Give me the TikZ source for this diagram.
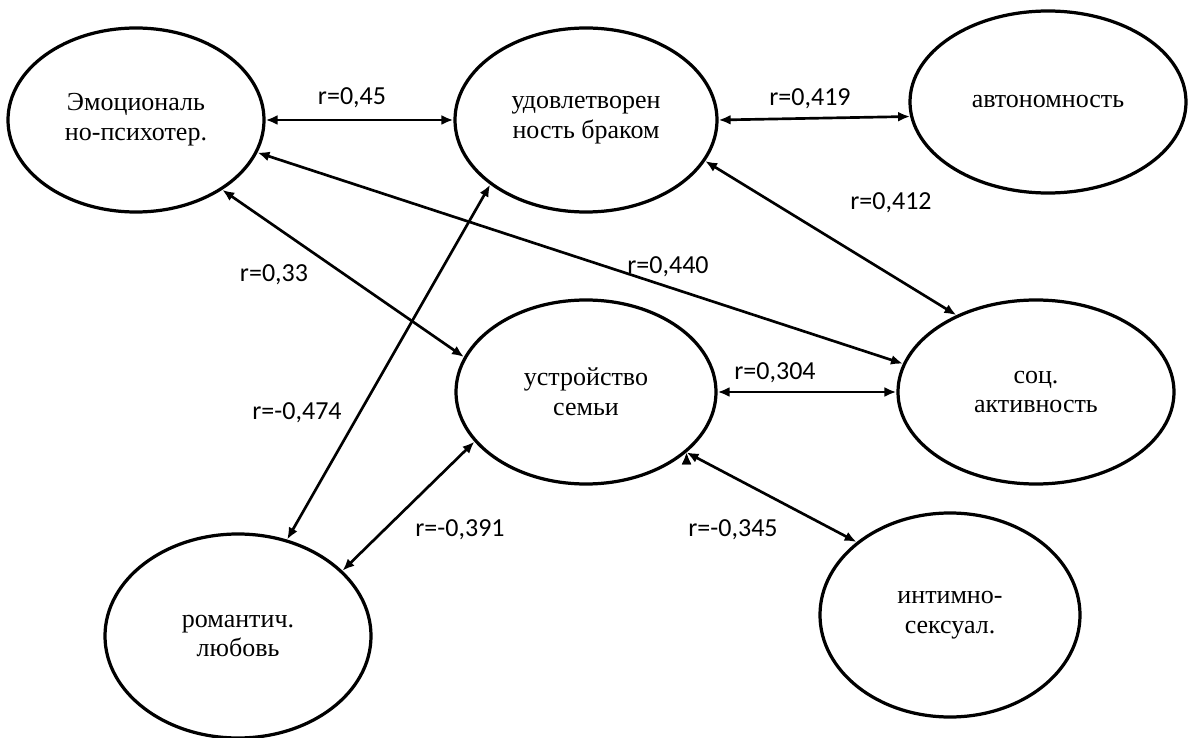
\documentclass[tikz,border=0pt]{standalone}
\usepackage{fontspec}
\setmainfont{Liberation Serif}
\newfontfamily\corrfont{Carlito}
\usetikzlibrary{shapes.geometric, positioning, arrows.meta}
\tikzset{
    <->, % every link points both ways
    >={Latex[length=8.5pt,width=7pt]},
    node distance=11.25cm, % centre to centre, change if necessary
    factor/.style={ellipse, draw, line width=2.3pt, inner sep=0pt, minimum height=4.6cm, align=center, font=\fontsize{18.5}{21.3}\selectfont}, % the scales
    corr/.style={inner sep=0pt, font=\corrfont\fontsize{18.5}{21}\selectfont}, % the r values
    link/.style={line width=1.9pt}, % the arrows between scales
}

\begin{document}
\begin{tikzpicture}
        % Frame
        \useasboundingbox (0,0) rectangle (29.95,-18.45);
        % Nodes
        \node[factor, minimum width=6.4cm] (emo) at (3.4,-3.0) {Эмоциональ\\но-психотер.};
        \node[factor, minimum width=6.55cm, right of=emo] (udov) {удовлетворен\\ность браком};
        \node[factor, minimum width=6.9cm, minimum height=4.55cm, right of=udov, xshift=0.3cm, yshift=0.45cm] (avto) {автономность};
        \node[factor, minimum width=6.5cm, node distance=6.75cm, below of=udov, yshift=-0.05cm] (ustr) {устройство\\семьи};
        \node[factor, minimum width=6.9cm, right of=ustr] (soc) {соц.\\активность};
        \node[factor, minimum width=6.65cm, minimum height=5.1cm] (rom) at (5.95,-15.9) {романтич.\\любовь};
        \node[factor, minimum width=6.5cm, minimum height=5.1cm] (intim) at (23.75,-15.375) {интимно-\\сексуал.};

        % Labels
        \node[corr] (l45) at (8.8,-2.45) {r=0,45};
        \node[corr] (l419) at (20.25,-2.475) {r=0,419};
        \node[corr] (l412) at (22.275,-5.075) {r=0,412};
        \node[corr] (l440) at (16.7,-6.675) {r=0,440};
        \node[corr] (l33) at (6.85,-6.875) {r=0,33};
        \node[corr] (l474) at (7.425,-10.325) {r=-0,474};
        \node[corr] (l304) at (19.375,-9.325) {r=0,304};
        \node[corr] (l391) at (11.5,-13.25) {r=-0,391};
        \node[corr] (l345) at (18.325,-13.25) {r=-0,345};

        % Draw lines
        \draw[link]
            (emo.east) edge (udov.west)
            (udov.east) edge (avto.186)
            (udov.341) edge (soc.136)
            (emo.345) edge (soc.168)
            (emo.321) edge (ustr.164)
            (udov.214) edge (rom.63)
            (ustr.east) edge (soc.west)
            (ustr.204) edge (rom.32)
            (ustr.329) edge (intim.142);
    \end{tikzpicture}
\end{document}
